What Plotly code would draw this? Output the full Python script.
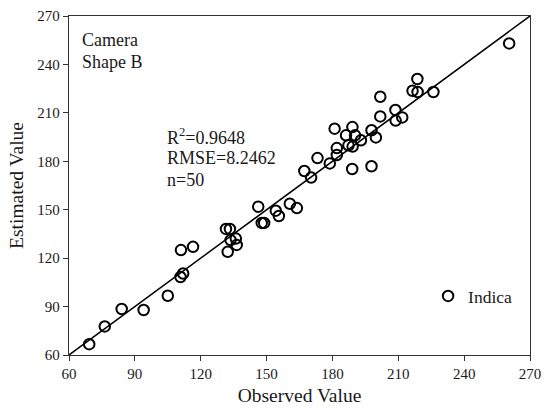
import plotly.graph_objects as go

observed = [69.2, 76.3, 84.0, 94.0, 105.0, 111.0, 116.5, 110.8, 112.0,
            131.5, 133.3, 133.6, 136.0, 136.4, 132.3,
            146.2, 147.8, 148.9, 154.2, 155.6, 160.6, 163.8,
            167.2, 170.3, 173.2, 178.8, 182.0, 189.0, 197.8, 182.0, 187.3,
            189.2, 193.0, 186.2, 190.3, 199.8, 197.8, 181.0, 189.1, 201.8,
            208.8, 211.8, 208.7, 201.8, 216.5, 218.8, 226.0, 218.7, 260.5]
estimated = [66.7, 77.7, 88.5, 87.9, 96.7, 125.0, 127.0, 108.3, 110.5,
             138.1, 138.1, 131.2, 132.1, 128.2, 123.9,
             151.9, 141.8, 141.8, 149.4, 146.1, 153.7, 151.0,
             174.0, 169.9, 182.0, 178.7, 183.9, 175.2, 176.9, 188.2, 189.9,
             189.1, 193.0, 196.1, 196.1, 194.8, 199.2, 200.2, 201.2, 207.8,
             205.2, 207.2, 211.8, 220.0, 223.7, 222.9, 222.9, 231.0, 253.0]
line_ends = [60, 270]
tick_vals = [60, 90, 120, 150, 180, 210, 240, 270]
panel_labels = ["Camera", "Shape B"]
stats = ["R<sup>2</sup>=0.9648", "RMSE=8.2462", "n=50"]

FONT = "Liberation Serif"
INK = "#1a1a1a"

fig = go.Figure()
fig.add_trace(go.Scatter(x=line_ends, y=line_ends, mode="lines",
                         line=dict(color="black", width=1.5),
                         showlegend=False, hoverinfo="skip"))
fig.add_trace(go.Scatter(x=observed, y=estimated, mode="markers", name="Indica",
                         marker=dict(symbol="circle-open", size=10.5,
                                     color="black", line=dict(width=2))))

axis_common = dict(range=[60, 270], tickvals=tick_vals, showgrid=False,
                   zeroline=False, showline=True, linecolor="#333",
                   linewidth=1.3, mirror=True, ticks="outside", ticklen=5,
                   tickcolor="#333", automargin=False,
                   tickfont=dict(family=FONT, size=15, color=INK))

fig.update_xaxes(title=dict(text="Observed Value",
                            font=dict(family=FONT, size=19.5, color=INK),
                            standoff=7), **axis_common)
fig.update_yaxes(title=dict(text="Estimated Value",
                            font=dict(family=FONT, size=19.5, color=INK),
                            standoff=8), **axis_common)

for i, s in enumerate(panel_labels):
    fig.add_annotation(x=0.024, y=0.929 - i * 0.065, xref="paper", yref="paper",
                       text=s, showarrow=False, xanchor="left", yanchor="middle",
                       font=dict(family=FONT, size=18, color=INK))
for i, s in enumerate(stats):
    fig.add_annotation(x=0.209, y=0.646 - i * 0.065, xref="paper", yref="paper",
                       text=s, showarrow=False, xanchor="left", yanchor="middle",
                       font=dict(family=FONT, size=18, color=INK))

fig.update_layout(width=546, height=411, paper_bgcolor="white", plot_bgcolor="white",
                  margin=dict(l=69, r=16, t=16, b=56, autoexpand=False),
                  legend=dict(x=0.972, y=0.174, xanchor="right", yanchor="middle",
                              font=dict(family=FONT, size=17.5, color=INK),
                              bgcolor="rgba(0,0,0,0)", itemwidth=30))

fig.write_html("out.html")
